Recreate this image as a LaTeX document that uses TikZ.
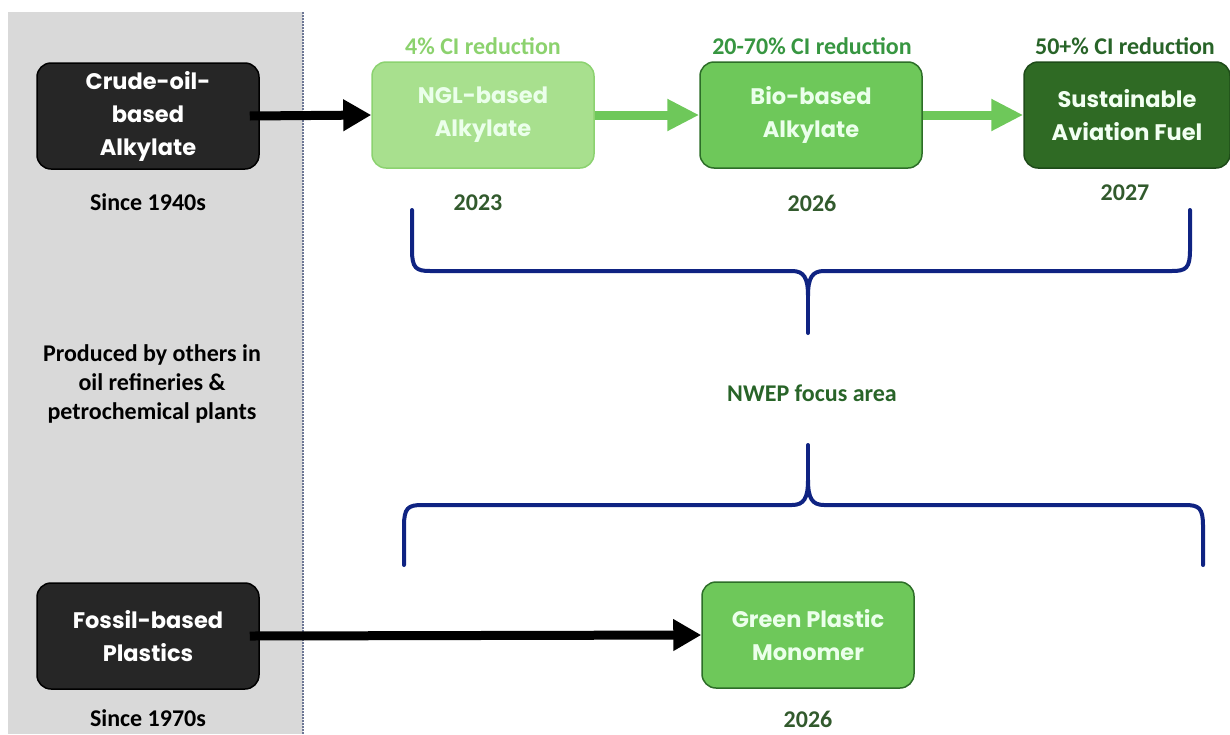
\documentclass[tikz,border=0pt]{standalone}
\usepackage{fontspec}
\setmainfont{Carlito}
\newfontfamily\boxfont{Poppins}
\usetikzlibrary{arrows.meta}
\definecolor{panelgray}{RGB}{217,217,217}
\definecolor{darkbox}{RGB}{38,38,38}
\definecolor{palegreen}{RGB}{168,224,142}
\definecolor{paleedge}{RGB}{140,210,112}
\definecolor{midgreen}{RGB}{110,200,90}
\definecolor{midedge}{RGB}{45,110,40}
\definecolor{deepgreen}{RGB}{47,106,36}
\definecolor{deepedge}{RGB}{30,75,25}
\definecolor{lblpale}{RGB}{140,210,110}
\definecolor{lblmid}{RGB}{55,150,65}
\definecolor{lbldeep}{RGB}{40,100,40}
\definecolor{yeargreen}{RGB}{50,90,45}
\definecolor{bracenavy}{RGB}{15,35,130}
\definecolor{dotline}{RGB}{110,120,150}
\begin{document}
\begin{tikzpicture}[x=1pt,y=-1pt,
  every node/.style={align=center},
  proc/.style={rounded corners=14pt, minimum width=222pt, minimum height=106pt, line width=1.5pt,
    font=\boxfont\bfseries\fontsize{22.5}{33}\selectfont, inner sep=2pt},
  lbl/.style={font=\bfseries\fontsize{24}{29}\selectfont},
  blackarrow/.style={line width=9pt, -{Triangle[length=28pt,width=30pt]}},
  greenarrow/.style={line width=9pt, midgreen, -{Triangle[length=32pt,width=30pt]}},
  brace/.style={line width=4pt, bracenavy, line cap=round}]
\useasboundingbox (0,0) rectangle (1230,734);
% left panel
\fill[panelgray] (8,12) rectangle (303,734);
\draw[dotline, line width=2pt, dash pattern=on 1.5pt off 1.5pt] (303,12) -- (303,734);
% boxes
\node[proc, fill=darkbox, draw=black, text=white] (crude) at (148,116) {Crude-oil-\\based\\Alkylate};
\node[proc, fill=darkbox, draw=black, text=white] (fossil) at (148,636) {Fossil-based\\Plastics};
\node[proc, fill=palegreen, draw=paleedge, text=white!92!green] (ngl) at (483,115) {NGL-based\\Alkylate};
\node[proc, fill=midgreen, draw=midedge, text=white!92!green] (bio) at (811,115) {Bio-based\\Alkylate};
\node[proc, fill=deepgreen, draw=deepedge, text=white!95!green, minimum width=206pt] (saf) at (1127,115) {Sustainable\\Aviation Fuel};
\node[proc, fill=midgreen, draw=midedge, text=white!92!green, minimum width=212pt] (gpm) at (808,635) {Green Plastic\\Monomer};
% labels
\node[lbl] (since1) at (148,202) {Since 1940s};
\node[lbl] (since2) at (148,718) {Since 1970s};
\node[lbl] (others) at (152,384) {Produced by others in\\oil refineries \&\\petrochemical plants};
\node[lbl, text=lblpale] (ci1) at (483,46) {4\% CI reduction};
\node[lbl, text=lblmid] (ci2) at (812,46) {20-70\% CI reduction};
\node[lbl, text=lbldeep] (ci3) at (1125,46) {50+\% CI reduction};
\node[lbl, text=yeargreen] (y1) at (478,203) {2023};
\node[lbl, text=yeargreen] (y2) at (812,203) {2026};
\node[lbl, text=yeargreen] (y3) at (1125,193) {2027};
\node[lbl, text=yeargreen] (y4) at (808,719) {2026};
\node[lbl, text=lbldeep] (focus) at (812,393) {NWEP focus area};
% arrows
\draw[blackarrow] ([xshift=-10pt]crude.east) -- (ngl.west);
\draw[blackarrow] ([xshift=-10pt]fossil.east) -- (gpm.west);
\draw[greenarrow] (ngl.east) -- (bio.west);
\draw[greenarrow] (bio.east) -- (saf.west);
% upper brace
\draw[brace] (412,210) -- (412,250) .. controls (412,268) and (416,271) .. (430,271) -- (792,271)
  .. controls (804,271) and (808,278) .. (808,296) .. controls (808,278) and (812,271) .. (824,271)
  -- (1172,271) .. controls (1186,271) and (1190,268) .. (1190,250) -- (1190,210);
\draw[brace] (808,290) -- (808,333);
% lower brace
\draw[brace] (404,565) -- (404,526) .. controls (404,508) and (408,505) .. (422,505) -- (792,505)
  .. controls (804,505) and (808,498) .. (808,480) .. controls (808,498) and (812,505) .. (824,505)
  -- (1185,505) .. controls (1199,505) and (1203,508) .. (1203,526) -- (1203,565);
\draw[brace] (808,486) -- (808,445);
\end{tikzpicture}
\end{document}
